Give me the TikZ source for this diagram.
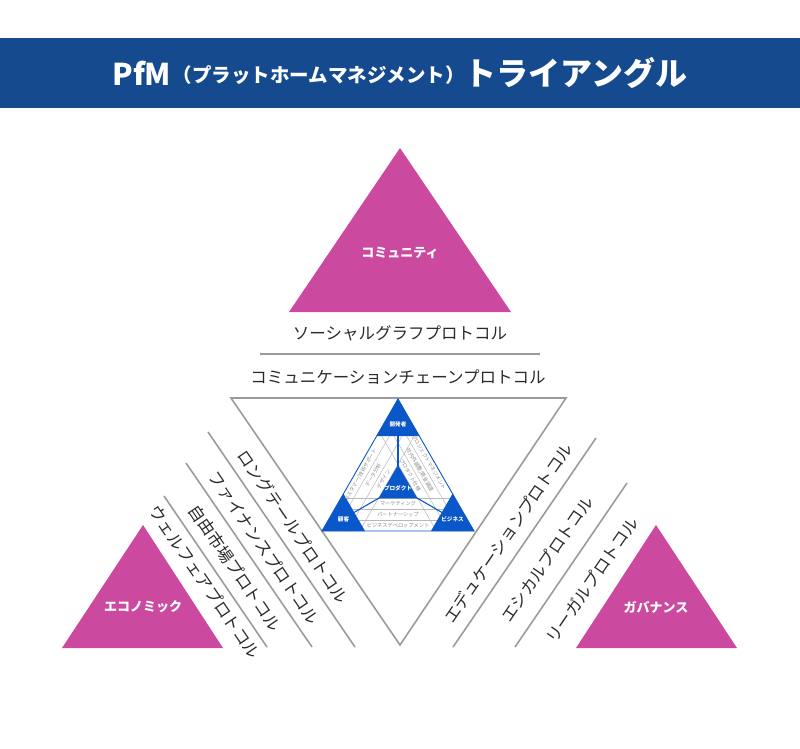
\documentclass[tikz,border=0pt]{standalone}
\usepackage{fontspec}
\setmainfont{Noto Sans CJK JP}
\definecolor{barblue}{HTML}{154B8E}
\definecolor{mag}{HTML}{CB4A9F}
\definecolor{pblue}{HTML}{0A57C9}
\definecolor{gline}{HTML}{9B9B9B}
\definecolor{gridc}{HTML}{B8B8B8}
\definecolor{txt}{HTML}{2B2B2B}
\definecolor{smalltxt}{HTML}{8A8A8A}
\tikzset{
  sepline/.style={draw=gline, line width=1.6pt},
  proto/.style={text=txt, inner sep=0pt, font=\fontsize{16.5}{18}\selectfont},
  maglabel/.style={text=white, inner sep=0pt, font=\bfseries\fontsize{13}{14}\selectfont},
  magtri/.style={fill=mag},
  gridline/.style={draw=gridc, line width=0.5pt},
  blueline/.style={draw=pblue, line width=1.1pt},
  bandtext/.style={text=smalltxt, inner sep=0pt, font=\fontsize{5.2}{6}\selectfont},
  cornerlabel/.style={text=white, inner sep=0pt, font=\bfseries\fontsize{5.6}{6}\selectfont},
}
\begin{document}
\begin{tikzpicture}[x=1pt,y=-1pt]
\useasboundingbox (0,0) rectangle (800,749);
% title bar
\fill[barblue] (0,38) rectangle (800,108);
\node[text=white, inner sep=0pt, font=\bfseries] (title) at (400,73)
  {{\fontsize{30}{31}\selectfont PfM}\,\raisebox{3pt}{\fontsize{19.5}{22}\selectfont （プラットホームマネジメント）}{\fontsize{32}{34}\selectfont トライアングル}};

% magenta triangles
\fill[magtri] (400,148) -- (511,312) -- (289,312) -- cycle;
\node[maglabel] (community) at (400,253) {コミュニティ};
\fill[magtri] (143,525) -- (223,648) -- (62,648) -- cycle;
\node[maglabel] (economic) at (143,607) {エコノミック};
\fill[magtri] (656,525) -- (737,648) -- (576,648) -- cycle;
\node[maglabel] (governance) at (656,607) {ガバナンス};

% top protocols
\node[proto] (social) at (400,333) {ソーシャルグラフプロトコル};
\coordinate (s1) at (260,354);
\coordinate (s2) at (540,354);
\draw[sepline] (s1) -- (s2);
\node[proto] (commchain) at (398,377) {コミュニケーションチェーンプロトコル};

% big inverted triangle
\coordinate (BL) at (231,398);
\coordinate (BR) at (566,398);
\coordinate (BA) at (400,645);
\draw[sepline, line join=miter] (BL) -- (BR) -- (BA) -- cycle;

% left parallel lines
\coordinate (a1) at (208,432); \coordinate (a2) at (355,647);
\coordinate (b1) at (186,463); \coordinate (b2) at (312,647);
\coordinate (c1) at (164,496); \coordinate (c2) at (267,647);
\draw[sepline] (a1) -- (a2);
\draw[sepline] (b1) -- (b2);
\draw[sepline] (c1) -- (c2);
% right parallel lines
\coordinate (d1) at (596,438); \coordinate (d2) at (453,647);
\coordinate (e1) at (627,483); \coordinate (e2) at (515,647);
\draw[sepline] (d1) -- (d2);
\draw[sepline] (e1) -- (e2);

% rotated protocol texts
\node[proto, rotate=-55.6] (longtail) at (293,527) {ロングテールプロトコル};
\node[proto, rotate=-55.6] (finance) at (264,548) {ファイナンスプロトコル};
\node[proto, rotate=-55.6] (freemarket) at (235,568) {自由市場プロトコル};
\node[proto, rotate=-55.6] (welfare) at (205,582) {ウェルフェアプロトコル};
\node[proto, rotate=55.6] (education) at (508,533) {エデュケーションプロトコル};
\node[proto, rotate=55.6] (ethical) at (547,559) {エシカルプロトコル};
\node[proto, rotate=55.6] (legal) at (592,580) {リーガルプロトコル};

% central PfM triangle
\coordinate (T) at (398,399);
\coordinate (L) at (322,531);
\coordinate (R) at (474,531);
\coordinate (G) at (398,487);
\begin{scope}
  \clip (T) -- (L) -- (R) -- cycle;
  \foreach \yy in {520,509,498.4} {\draw[gridline] (300,\yy) -- (500,\yy);}
  \foreach \s in {12.7,25.4,37.6} {
    \draw[gridline] (436+\s,333) -- (284+\s,597);
    \draw[gridline] (360-\s,333) -- (512-\s,597);
  }
\end{scope}
\draw[blueline] (G) -- (T);
\draw[blueline] (G) -- (L);
\draw[blueline] (G) -- (R);
\draw[draw=pblue, line width=0.9pt, line join=miter] (T) -- (L) -- (R) -- cycle;
\fill[pblue] (T) -- (376.5,436.2) -- (419.5,436.2) -- cycle;
\fill[pblue] (L) -- (365,531) -- (343.5,493.8) -- cycle;
\fill[pblue] (R) -- (431,531) -- (452.5,493.8) -- cycle;
\fill[pblue] (398,465) -- (417.5,498.4) -- (378.5,498.4) -- cycle;
\node[cornerlabel] (dev) at (398,424) {開発者};
\node[cornerlabel] (cust) at (343.5,519) {顧客};
\node[cornerlabel] (biz) at (452.5,519) {ビジネス};
\node[cornerlabel] (prod) at (398,488.5) {プロダクト};

% band texts
\node[bandtext, rotate=60] (cs) at (360.5,475) {カスタマー/技術サポート};
\node[bandtext, rotate=60] (data) at (373.2,475) {データ分析};
\node[bandtext, rotate=60] (design) at (383.4,479) {デザイン};
\node[bandtext, rotate=-60] (pm) at (429,462) {プロジェクトマネジメント};
\node[bandtext, rotate=-60] (coord) at (419.8,470) {社内外調整/資金調達};
\node[bandtext, rotate=-60] (spec) at (410.3,475) {プロダクト仕様};
\node[bandtext] (mkt) at (398,503.7) {マーケティング};
\node[bandtext] (partner) at (398,514.5) {パートナーシップ};
\node[bandtext] (bizdev) at (398,525.5) {ビジネスデベロップメント};
\end{tikzpicture}
\end{document}
